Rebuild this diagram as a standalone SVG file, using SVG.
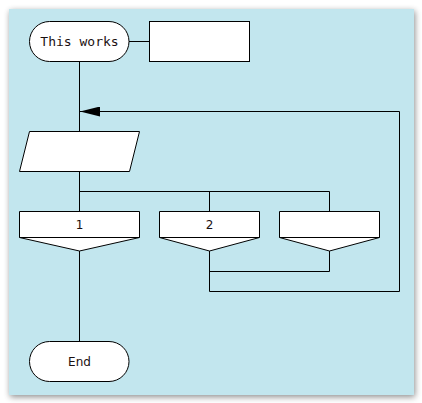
<svg xmlns="http://www.w3.org/2000/svg" width="422" height="403" viewBox="0 0 422 403">
<style>
.shape{fill:#ffffff;stroke:#000000;stroke-width:1}
.line{fill:none;stroke:#000000;stroke-width:1}
.mono{font-family:"DejaVu Sans Mono","Liberation Mono",monospace;font-size:13px;fill:#1a1010}
.lbl{font-family:"DejaVu Sans","Liberation Sans",sans-serif;font-size:12px;fill:#1a1010}
</style>
<defs>
<filter id="sh" x="-10%" y="-10%" width="120%" height="120%">
<feGaussianBlur in="SourceAlpha" stdDeviation="3"/>
<feOffset dx="1" dy="2" result="b"/>
<feComponentTransfer><feFuncA type="linear" slope="0.45"/></feComponentTransfer>
<feMerge><feMergeNode/><feMergeNode in="SourceGraphic"/></feMerge>
</filter>
<marker id="arr" markerWidth="20" markerHeight="10" refX="20" refY="5" orient="auto" markerUnits="userSpaceOnUse">
<path d="M20,5 L0,0 L0,10 Z" fill="#000"/>
</marker>
</defs>
<rect x="9" y="9" width="405" height="386" fill="#c2e6ee" filter="url(#sh)"/>
<g id="connectors">
<line class="line" x1="129" y1="41.5" x2="149.5" y2="41.5"/>
<line class="line" x1="79.5" y1="61" x2="79.5" y2="131"/>
<line class="line" x1="79.5" y1="171" x2="79.5" y2="211"/>
<polyline class="line" points="79.5,191.5 329.5,191.5 329.5,211"/>
<line class="line" x1="209.5" y1="191.5" x2="209.5" y2="211"/>
<line class="line" x1="79.5" y1="251" x2="79.5" y2="341"/>
<polyline class="line" points="209.5,251 209.5,291.5 399.5,291.5 399.5,111.5 80,111.5" marker-end="url(#arr)"/>
<polyline class="line" points="209.5,271.5 329.5,271.5 329.5,251"/>
</g>
<g id="start">
<rect class="shape" x="29.5" y="21.5" width="99.5" height="40" rx="20" ry="20"/>
<text class="mono" x="79.5" y="46" text-anchor="middle">This works</text>
</g>
<g id="comment">
<rect class="shape" x="149.5" y="21.5" width="100" height="40"/>
</g>
<g id="input">
<polygon class="shape" points="29.5,131.5 139.5,131.5 129.5,171.5 19.5,171.5"/>
</g>
<g id="case1">
<polygon class="shape" points="19.5,211.5 139.5,211.5 139.5,237.5 79.5,251 19.5,237.5"/>
<line class="line" x1="19.5" y1="237.5" x2="139.5" y2="237.5"/>
<text class="lbl" x="79.5" y="229" text-anchor="middle">1</text>
</g>
<g id="case2">
<polygon class="shape" points="159.5,211.5 259.5,211.5 259.5,237.5 209.5,251 159.5,237.5"/>
<line class="line" x1="159.5" y1="237.5" x2="259.5" y2="237.5"/>
<text class="lbl" x="209.5" y="229" text-anchor="middle">2</text>
</g>
<g id="case3">
<polygon class="shape" points="279.5,211.5 379.5,211.5 379.5,237.5 329.5,251 279.5,237.5"/>
<line class="line" x1="279.5" y1="237.5" x2="379.5" y2="237.5"/>
</g>
<g id="end">
<rect class="shape" x="29.5" y="341.5" width="99.5" height="40" rx="20" ry="20"/>
<text class="lbl" x="79.5" y="365.5" text-anchor="middle">End</text>
</g>
</svg>
